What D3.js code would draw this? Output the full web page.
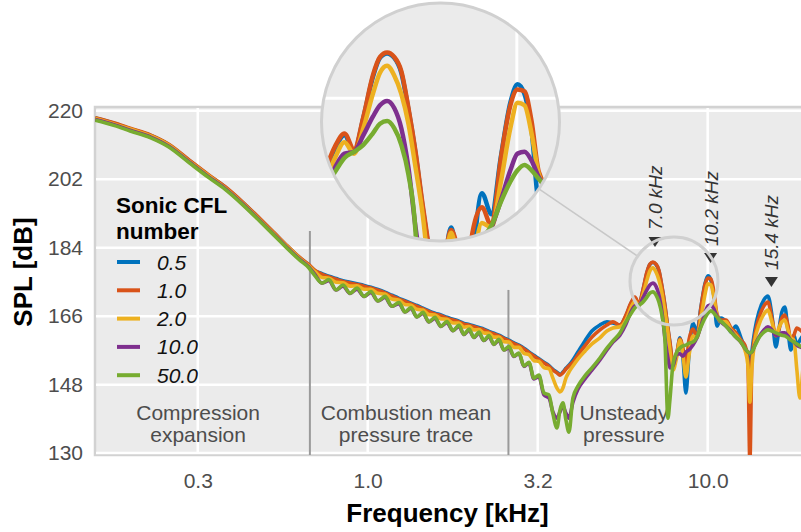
<!DOCTYPE html>
<html lang="en">
<head>
<meta charset="UTF-8">
<title>SPL spectrum</title>
<script src="https://cdn.jsdelivr.net/npm/d3@7"></script>
<style>
body{margin:0;background:#fff;}
text{font-family:"Liberation Sans",Arial,Helvetica,sans-serif;}
</style>
</head>
<body>
<script>
// frequency axis in kHz, shared by all five runs
var freq = [0.158,0.18,0.2,0.23,0.26,0.3,0.34,0.38,0.43,0.48,0.53,0.58,0.63,0.67,0.70,
  0.734,0.769,0.807,0.846,0.887,0.930,0.975,1.022,1.072,1.124,1.178,1.236,1.287,1.340,1.396,1.454,
  1.514,1.577,1.642,1.710,1.781,1.855,1.919,1.986,2.054,2.124,2.197,2.273,2.351,2.432,2.516,2.603,
  2.692,2.785,2.881,2.980,3.083,3.189,3.299,3.413,3.506,3.603,3.677,3.752,3.829,3.908,4.015,4.153,
  4.355,4.566,4.820,5.054,5.264,5.519,5.748,
  5.946,6.110,6.278,6.450,6.627,6.763,6.902,7.044,7.188,7.336,7.487,7.640,7.744,7.903,8.121,8.287,
  8.458,8.631,8.808,9.050,9.299,9.555,9.816,10.02,10.22,10.43,10.65,10.94,11.32,11.71,12.11,12.53,
  12.87,13.13,13.31,13.49,13.77,14.15,14.64,15.04,15.45,15.87,16.20,16.53,16.87,17.22,17.57,17.93,
  18.30,18.68,19.19,19.99];

// SPL [dB] for each sonic CFL number
var spl05 = [218.1,216.7,215.3,213.5,211.1,206.8,203.1,200.0,195.8,191.7,187.9,184.4,181.4,179.5,177.9,
  177.2,176.5,175.9,175.3,174.9,174.5,174.1,173.6,173.0,172.3,171.5,170.7,170.1,169.4,168.8,168.1,
  167.4,166.8,166.3,165.7,165.2,164.7,164.1,163.8,163.4,163.0,162.6,162.0,161.5,161.0,160.3,159.7,
  159.0,158.4,157.6,156.6,155.7,154.8,153.9,153.0,152.0,151.3,150.7,151.3,152.3,153.1,154.5,156.6,
  159.5,162.1,163.7,164.5,164.2,163.7,166.0,
  169.3,170.8,168.9,172.8,177.4,179.6,180.1,179.6,177.9,173.7,168.7,162.6,158.9,153.2,156.1,160.3,
  155.0,145.8,155.8,164.2,161.8,168.4,174.5,176.6,175.5,171.3,163.4,165.5,164.5,161.8,163.4,160.3,
  157.6,155.5,151.3,156.6,162.4,167.1,170.3,171.3,166.3,157.9,162.4,167.1,168.4,162.4,157.1,161.0,
  158.4,159.7,161.0,160.3];
var spl10 = [218.2,216.8,215.4,213.6,211.2,206.9,203.2,200.1,195.9,191.8,188.0,184.5,181.5,179.6,178.0,
  177.0,176.3,175.7,175.1,174.7,174.3,173.9,173.4,172.8,172.1,171.3,170.5,169.9,169.2,168.6,167.9,
  167.2,166.6,166.1,165.5,165.0,164.5,163.9,163.6,163.2,162.8,162.4,161.8,161.3,160.8,160.1,159.5,
  158.8,158.2,157.4,156.4,155.5,154.6,153.7,152.8,151.8,151.1,150.5,151.1,152.1,152.9,153.9,155.8,
  158.2,160.5,162.4,163.7,164.5,163.7,166.3,
  169.5,171.0,169.2,172.9,177.6,179.7,180.2,179.7,178.1,173.9,168.9,162.9,159.2,153.9,156.6,160.0,
  157.6,153.2,159.7,162.6,160.5,168.2,174.2,176.0,175.8,172.4,166.6,165.0,165.0,162.9,161.6,159.7,
  158.4,154.5,127.6,153.9,161.0,165.5,168.7,169.7,165.5,160.8,162.4,165.5,166.3,163.7,159.7,161.0,
  162.9,162.4,161.6,161.0];
var spl20 = [218.0,216.5,215.2,213.4,211.0,206.6,203.0,199.8,195.6,191.5,187.7,184.3,181.3,179.3,177.7,
  176.2,176.0,174.9,174.8,173.9,174.0,173.1,173.1,172.0,171.8,170.5,170.2,169.1,168.9,167.8,167.6,
  166.4,166.3,165.3,165.2,164.2,164.2,163.1,163.3,162.4,162.5,161.6,161.5,160.5,160.5,159.3,159.2,
  157.8,157.8,156.2,155.9,154.3,154.1,152.5,152.2,149.7,147.1,146.1,147.1,149.7,151.3,152.9,154.7,
  156.8,158.7,160.3,162.1,162.9,163.2,165.0,
  168.2,170.0,168.7,171.6,175.5,177.9,178.7,177.6,175.5,172.1,167.1,161.8,157.1,151.8,155.5,159.7,
  155.8,150.0,155.5,160.8,160.3,165.5,171.6,174.5,174.2,171.0,166.3,164.5,164.5,162.4,161.0,159.2,
  157.1,153.2,143.4,152.4,159.7,163.7,166.6,167.6,164.5,161.0,162.9,164.5,165.0,162.4,160.3,159.7,
  151.8,144.5,154.5,158.4];
var spl100 = [217.7,216.3,214.9,213.1,210.7,206.4,202.7,199.6,195.4,191.3,187.5,184.0,181.0,179.0,176.9,
  174.7,175.3,172.9,173.9,172.0,173.1,171.2,172.2,170.0,170.9,168.6,169.3,167.1,168.0,165.8,166.7,
  164.5,165.4,163.3,164.3,162.2,163.3,161.2,162.3,160.4,161.5,159.6,160.6,158.6,159.6,157.1,157.7,
  155.4,156.2,152.8,153.7,149.5,150.1,145.3,144.5,140.8,139.2,140.8,142.4,140.5,139.2,143.4,146.8,
  149.5,151.8,154.5,157.1,159.2,161.0,163.9,
  167.1,168.7,168.9,170.8,172.9,174.2,174.7,173.9,171.6,167.1,160.3,155.0,152.4,152.9,156.1,156.1,
  155.5,156.6,157.1,158.4,160.3,163.4,166.8,168.7,168.9,167.9,166.0,164.5,163.4,162.1,160.5,159.2,
  157.6,156.6,156.3,156.6,158.4,160.5,162.4,163.2,162.4,161.0,161.0,161.6,161.6,160.8,159.7,159.2,
  158.4,157.9,157.6,157.1];
var spl500 = [217.5,216.1,214.7,212.9,210.5,206.2,202.5,199.4,195.2,191.1,187.3,183.8,180.8,178.8,176.6,
  174.7,175.6,172.9,174.2,172.0,173.4,171.2,172.5,170.0,171.2,168.6,169.6,167.1,168.3,165.8,167.0,
  164.5,165.7,163.3,164.6,162.2,163.6,161.2,162.6,160.4,161.8,159.6,160.9,158.6,159.9,157.1,158.0,
  155.5,156.3,152.9,153.9,149.7,150.5,145.8,145.3,140.3,136.6,141.3,143.2,138.7,135.5,144.5,147.6,
  150.3,152.4,155.0,157.6,159.5,161.6,164.5,
  166.6,168.2,168.9,169.7,171.0,172.1,172.4,171.6,169.7,166.3,159.7,139.2,144.0,153.2,156.6,157.6,
  158.2,158.4,158.9,159.2,160.5,163.2,165.5,166.8,167.4,166.8,165.8,164.7,163.4,161.8,160.5,159.2,
  157.6,156.6,156.3,156.6,158.2,160.3,161.8,162.4,162.1,161.6,161.3,161.0,160.8,160.3,159.7,159.2,
  158.7,158.2,157.6,157.1];

var cflNames = ["0.5","1.0","2.0","10.0","50.0"];
var yTicks = [130,148,166,184,202,220];
var xTicks = [Math.pow(10,-0.5),1,Math.pow(10,0.5),10];

// annotated peaks (kHz, dB level of the marker tip)
var peakFreqs = [7.0,10.2,15.4];
var peakLevels = [184.2,180.0,173.7];
var peakNames = ["7.0 kHz","10.2 kHz","15.4 kHz"];

// regime separators (kHz, top in dB) and regime names
var breakFreqs = [0.676,2.594];
var breakTops = [188.4,172.9];
var zoneFreqs = [0.317,1.296,5.67];
var zoneNames = [["Compression","expansion"],["Combustion mean","pressure trace"],["Unsteady","pressure"]];

// magnified part: small circle centre, source point of the zoom
var focusF = 7.96, focusDb = 175.25;
var lensSrcF = 8.04, lensSrcDb = 172.3;

var series = [spl05,spl10,spl20,spl100,spl500];
var colors = ["#0072BD","#D95319","#EDB120","#7E2F8E","#77AC30"];

var width = 801, height = 532;
var plot = {left:95, top:107, right:810, bottom:455};

var svg = d3.select("body").append("svg").attr("width",width).attr("height",height);

var x = d3.scaleLog().domain([0.1577,20]).range([plot.left,plot.right]);
var y = d3.scaleLinear().domain([129.5,221]).range([plot.bottom,plot.top]);

var defs = svg.append("defs");
defs.append("clipPath").attr("id","plotClip").append("rect")
  .attr("x",plot.left).attr("y",plot.top)
  .attr("width",plot.right-plot.left).attr("height",plot.bottom-plot.top);

// panel
svg.append("rect").attr("x",plot.left).attr("y",plot.top)
  .attr("width",plot.right-plot.left).attr("height",plot.bottom-plot.top)
  .attr("fill","#ebebeb").attr("stroke","#d2d2d2").attr("stroke-width",2.5);

// grid
var grid = svg.append("g");
grid.selectAll("line.h").data(yTicks).enter().append("line")
  .attr("x1",plot.left+1).attr("x2",plot.right)
  .attr("y1",function(d){return y(d);}).attr("y2",function(d){return y(d);})
  .attr("stroke","#fff").attr("stroke-width",2.5);
grid.selectAll("line.v").data(xTicks).enter().append("line")
  .attr("y1",plot.top+1).attr("y2",plot.bottom-1)
  .attr("x1",function(d){return x(d);}).attr("x2",function(d){return x(d);})
  .attr("stroke","#fff").attr("stroke-width",2.5);

// axes (labels only)
var yAxis = d3.axisLeft(y).tickValues(yTicks).tickSize(0).tickPadding(12);
var gy = svg.append("g").attr("transform","translate("+plot.left+",0)").call(yAxis);
var xAxis = d3.axisBottom(x).tickValues(xTicks).tickFormat(d3.format(".1f")).tickSize(0).tickPadding(18);
var gx = svg.append("g").attr("transform","translate(0,"+plot.bottom+")").call(xAxis);
[gx,gy].forEach(function(g){
  g.select(".domain").remove();
  g.selectAll("text").attr("font-size",21).attr("fill","#4d4d4d")
    .attr("font-family","'Liberation Sans',Arial,sans-serif");
});

svg.append("text").attr("x",(95+810)/2 - 5).attr("y",522).attr("text-anchor","middle")
  .attr("font-size",26).attr("font-weight","bold").attr("fill","#000").text("Frequency [kHz]");
svg.append("text").attr("transform","translate(32,272) rotate(-90)").attr("text-anchor","middle")
  .attr("font-size",26).attr("font-weight","bold").attr("fill","#000").text("SPL [dB]");

// regime separators and names
svg.selectAll("line.sep").data(breakFreqs).enter().append("line")
  .attr("x1",function(d){return x(d);}).attr("x2",function(d){return x(d);})
  .attr("y1",function(d,i){return y(breakTops[i]);}).attr("y2",plot.bottom)
  .attr("stroke","#9a9a9a").attr("stroke-width",2);
zoneNames.forEach(function(lines,i){
  var t = svg.append("text").attr("text-anchor","middle").attr("font-size",21).attr("fill","#4d4d4d");
  lines.forEach(function(s,j){
    t.append("tspan").attr("x",x(zoneFreqs[i])).attr("y",420+j*22).text(s);
  });
});

// curves
function makeLine(sx,sy){
  return d3.line()
    .x(function(d,i){return sx(freq[i]);})
    .y(function(d){return sy(d);})
    .curve(d3.curveMonotoneX);
}
var line = makeLine(x,y);
svg.append("g").attr("clip-path","url(#plotClip)")
  .selectAll("path").data(series).enter().append("path")
  .attr("d",line).attr("fill","none")
  .attr("stroke",function(d,i){return colors[i];})
  .attr("stroke-width",3.6).attr("stroke-linejoin","round");

// legend
var lg = svg.append("g");
lg.append("text").attr("x",116).attr("y",213).attr("font-size",22.5).attr("font-weight","bold").text("Sonic CFL");
lg.append("text").attr("x",116).attr("y",239).attr("font-size",22.5).attr("font-weight","bold").text("number");
cflNames.forEach(function(n,i){
  var yy = 262 + i*28.3;
  lg.append("line").attr("x1",117).attr("x2",140).attr("y1",yy).attr("y2",yy)
    .attr("stroke",colors[i]).attr("stroke-width",4);
  lg.append("text").attr("x",157).attr("y",yy+7.5).attr("font-size",21)
    .attr("font-style","italic").attr("fill","#111").text(n);
});

// peak markers
peakFreqs.forEach(function(f,i){
  var px = x(f), py = y(peakLevels[i]);
  svg.append("path").attr("d","M"+(px-6.5)+","+(py-10)+"L"+(px+6.5)+","+(py-10)+"L"+px+","+py+"Z")
    .attr("fill","#333");
  svg.append("text").attr("transform","translate("+(px+7)+","+(py-17)+") rotate(-90)")
    .attr("font-size",19).attr("font-style","italic").attr("fill","#333").text(peakNames[i]);
});

// magnifier
var lens = {cx:440.5, cy:122, r:119};
var focusR = 44, kx = 2.37, ky = 2.31;
var fxp = x(focusF), fyp = y(focusDb);
var sxp = x(lensSrcF), syp = y(lensSrcDb);
var ix = d3.scaleLog().domain([x.invert(sxp-lens.r/kx), x.invert(sxp+lens.r/kx)]).range([lens.cx-lens.r, lens.cx+lens.r]);
var iy = d3.scaleLinear().domain([y.invert(syp+lens.r/ky), y.invert(syp-lens.r/ky)]).range([lens.cy+lens.r, lens.cy-lens.r]);

var dx = fxp-lens.cx, dy = fyp-lens.cy, dist = Math.sqrt(dx*dx+dy*dy);
svg.append("line")
  .attr("x1",lens.cx+dx/dist*lens.r).attr("y1",lens.cy+dy/dist*lens.r)
  .attr("x2",fxp-dx/dist*focusR).attr("y2",fyp-dy/dist*focusR)
  .attr("stroke","#c8c8c8").attr("stroke-width",1.5);
svg.append("circle").attr("cx",fxp).attr("cy",fyp).attr("r",focusR)
  .attr("fill","none").attr("stroke","#d0d0d0").attr("stroke-width",3);

defs.append("clipPath").attr("id","lensClip").append("circle")
  .attr("cx",lens.cx).attr("cy",lens.cy).attr("r",lens.r);
var lg2 = svg.append("g").attr("clip-path","url(#lensClip)");
lg2.append("circle").attr("cx",lens.cx).attr("cy",lens.cy).attr("r",lens.r).attr("fill","#ebebeb");
lg2.append("line").attr("x1",ix(10)).attr("x2",ix(10)).attr("y1",lens.cy-lens.r).attr("y2",lens.cy+lens.r)
  .attr("stroke","#fff").attr("stroke-width",3);
lg2.append("line").attr("y1",iy(175)).attr("y2",iy(175)).attr("x1",lens.cx-lens.r).attr("x2",lens.cx+lens.r)
  .attr("stroke","#fff").attr("stroke-width",3);
var iline = makeLine(ix,iy);
lg2.selectAll("path").data(series).enter().append("path")
  .attr("d",iline).attr("fill","none")
  .attr("stroke",function(d,i){return colors[i];})
  .attr("stroke-width",4.5).attr("stroke-linejoin","round");
svg.append("circle").attr("cx",lens.cx).attr("cy",lens.cy).attr("r",lens.r)
  .attr("fill","none").attr("stroke","#d0d0d0").attr("stroke-width",3);
</script>
</body>
</html>
